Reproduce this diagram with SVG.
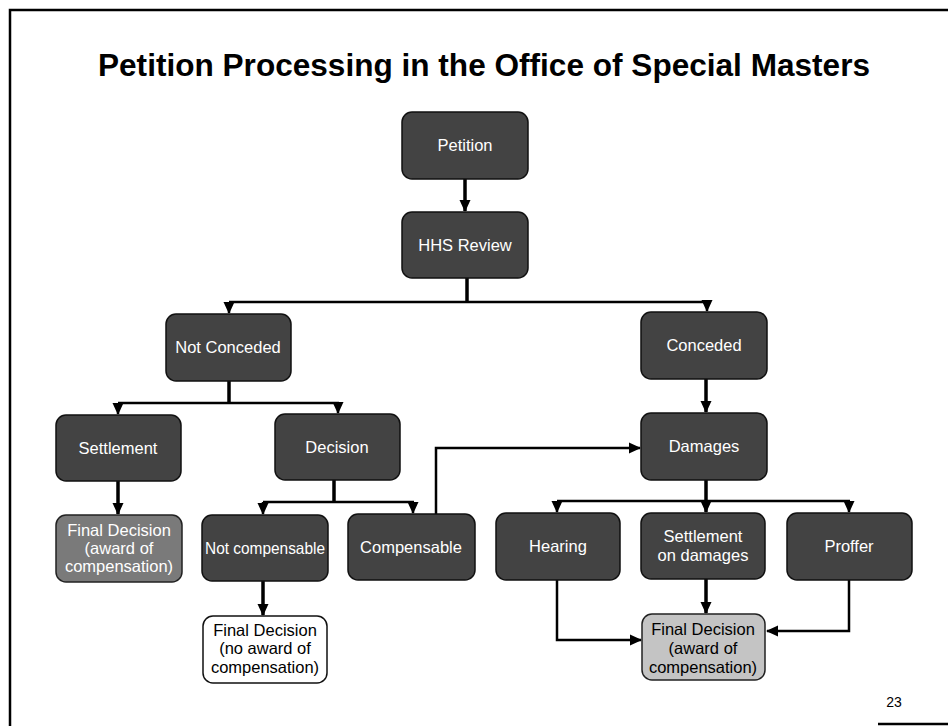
<svg xmlns="http://www.w3.org/2000/svg" width="948" height="726" viewBox="0 0 948 726">
<defs>
<marker id="ah" markerUnits="userSpaceOnUse" markerWidth="12" markerHeight="12" viewBox="0 0 12 12" refX="11" refY="6" orient="auto">
<path d="M0,0.5 L12,6 L0,11.5 Z" fill="#000"/>
</marker>
<style>
.dark{fill:#434343;stroke:#111;stroke-width:1.5}
.mid{fill:#7a7a7a;stroke:#222;stroke-width:1.5}
.light{fill:#c4c4c4;stroke:#222;stroke-width:1.5}
.white{fill:#fff;stroke:#111;stroke-width:1.5}
.wt{font-family:"Liberation Sans",Arial,sans-serif;font-size:16.5px;fill:#fff;text-anchor:middle}
.bt{font-family:"Liberation Sans",Arial,sans-serif;font-size:16.5px;fill:#000;text-anchor:middle}
.c{fill:none;stroke:#000;stroke-width:2.5}
.s{fill:none;stroke:#000;stroke-width:3.5}
</style>
</defs>
<rect width="948" height="726" fill="#fff"/>
<g id="frame" fill="none" stroke="#000" stroke-width="2.5">
<path d="M10,726 V10 H948"/>
<path d="M878,724 H948"/>
</g>
<text x="484" y="76" font-family="'Liberation Sans',Arial,sans-serif" font-size="32" font-weight="bold" text-anchor="middle" fill="#000" textLength="772" lengthAdjust="spacingAndGlyphs">Petition Processing in the Office of Special Masters</text>
<g id="connectors">
<path class="s" d="M465,179 V211" marker-end="url(#ah)"/>
<path class="s" d="M467,278 V302"/>
<path class="c" d="M229,302 H708"/>
<path class="c" d="M229,302 V313" marker-end="url(#ah)"/>
<path class="c" d="M707,302 V311" marker-end="url(#ah)"/>
<path class="s" d="M229,381 V403"/>
<path class="c" d="M118,403 H339"/>
<path class="c" d="M118,403 V414" marker-end="url(#ah)"/>
<path class="c" d="M338,403 V413" marker-end="url(#ah)"/>
<path class="s" d="M118,481 V514" marker-end="url(#ah)"/>
<path class="s" d="M334,480 V502"/>
<path class="c" d="M263,502 H414"/>
<path class="c" d="M263,502 V514" marker-end="url(#ah)"/>
<path class="c" d="M413,502 V513" marker-end="url(#ah)"/>
<path class="c" d="M436,514 V448 H640" marker-end="url(#ah)"/>
<path class="s" d="M706,379 V412" marker-end="url(#ah)"/>
<path class="s" d="M706,480 V501"/>
<path class="c" d="M557,501 H850"/>
<path class="c" d="M557,501 V512" marker-end="url(#ah)"/>
<path class="s" d="M706,501 V512" marker-end="url(#ah)"/>
<path class="c" d="M849,501 V512" marker-end="url(#ah)"/>
<path class="s" d="M263,581 V615" marker-end="url(#ah)"/>
<path class="c" d="M557,580 V640 H641" marker-end="url(#ah)"/>
<path class="s" d="M706,579 V613" marker-end="url(#ah)"/>
<path class="c" d="M849,580 V631 H767" marker-end="url(#ah)"/>
</g>
<g id="petition"><rect class="dark" x="402" y="112" width="126" height="67" rx="10"/><text class="wt" x="465" y="151">Petition</text></g>
<g id="hhs-review"><rect class="dark" x="402" y="212" width="126" height="66" rx="10"/><text class="wt" x="465" y="251">HHS Review</text></g>
<g id="not-conceded"><rect class="dark" x="166" y="314" width="125" height="67" rx="10"/><text class="wt" x="228" y="353">Not Conceded</text></g>
<g id="conceded"><rect class="dark" x="641" y="312" width="126" height="67" rx="10"/><text class="wt" x="704" y="351">Conceded</text></g>
<g id="settlement"><rect class="dark" x="56" y="415" width="125" height="66" rx="10"/><text class="wt" x="118" y="454">Settlement</text></g>
<g id="decision"><rect class="dark" x="275" y="414" width="125" height="66" rx="10"/><text class="wt" x="337" y="453">Decision</text></g>
<g id="damages"><rect class="dark" x="641" y="413" width="126" height="67" rx="10"/><text class="wt" x="704" y="452">Damages</text></g>
<g id="final-award-left"><rect class="mid" x="56" y="515" width="126" height="67" rx="10"/><text class="wt" x="119" y="536">Final Decision</text><text class="wt" x="119" y="554">(award of</text><text class="wt" x="119" y="572">compensation)</text></g>
<g id="not-compensable"><rect class="dark" x="202" y="515" width="126" height="66" rx="10"/><text class="wt" x="265" y="554" textLength="120" lengthAdjust="spacingAndGlyphs">Not compensable</text></g>
<g id="compensable"><rect class="dark" x="348" y="514" width="127" height="66" rx="10"/><text class="wt" x="411" y="553">Compensable</text></g>
<g id="hearing"><rect class="dark" x="496" y="513" width="124" height="67" rx="10"/><text class="wt" x="558" y="552">Hearing</text></g>
<g id="settlement-damages"><rect class="dark" x="641" y="513" width="124" height="66" rx="10"/><text class="wt" x="703" y="542">Settlement</text><text class="wt" x="703" y="561">on damages</text></g>
<g id="proffer"><rect class="dark" x="787" y="513" width="125" height="67" rx="10"/><text class="wt" x="849" y="552">Proffer</text></g>
<g id="final-no-award"><rect class="white" x="203" y="616" width="124" height="67" rx="10"/><text class="bt" x="265" y="636">Final Decision</text><text class="bt" x="265" y="654">(no award of</text><text class="bt" x="265" y="673">compensation)</text></g>
<g id="final-award-right"><rect class="light" x="642" y="614" width="123" height="66" rx="10"/><text class="bt" x="703" y="635">Final Decision</text><text class="bt" x="703" y="654">(award of</text><text class="bt" x="703" y="673">compensation)</text></g>
<text x="894" y="707" font-family="'Liberation Sans',Arial,sans-serif" font-size="14" text-anchor="middle" fill="#000">23</text>
</svg>
